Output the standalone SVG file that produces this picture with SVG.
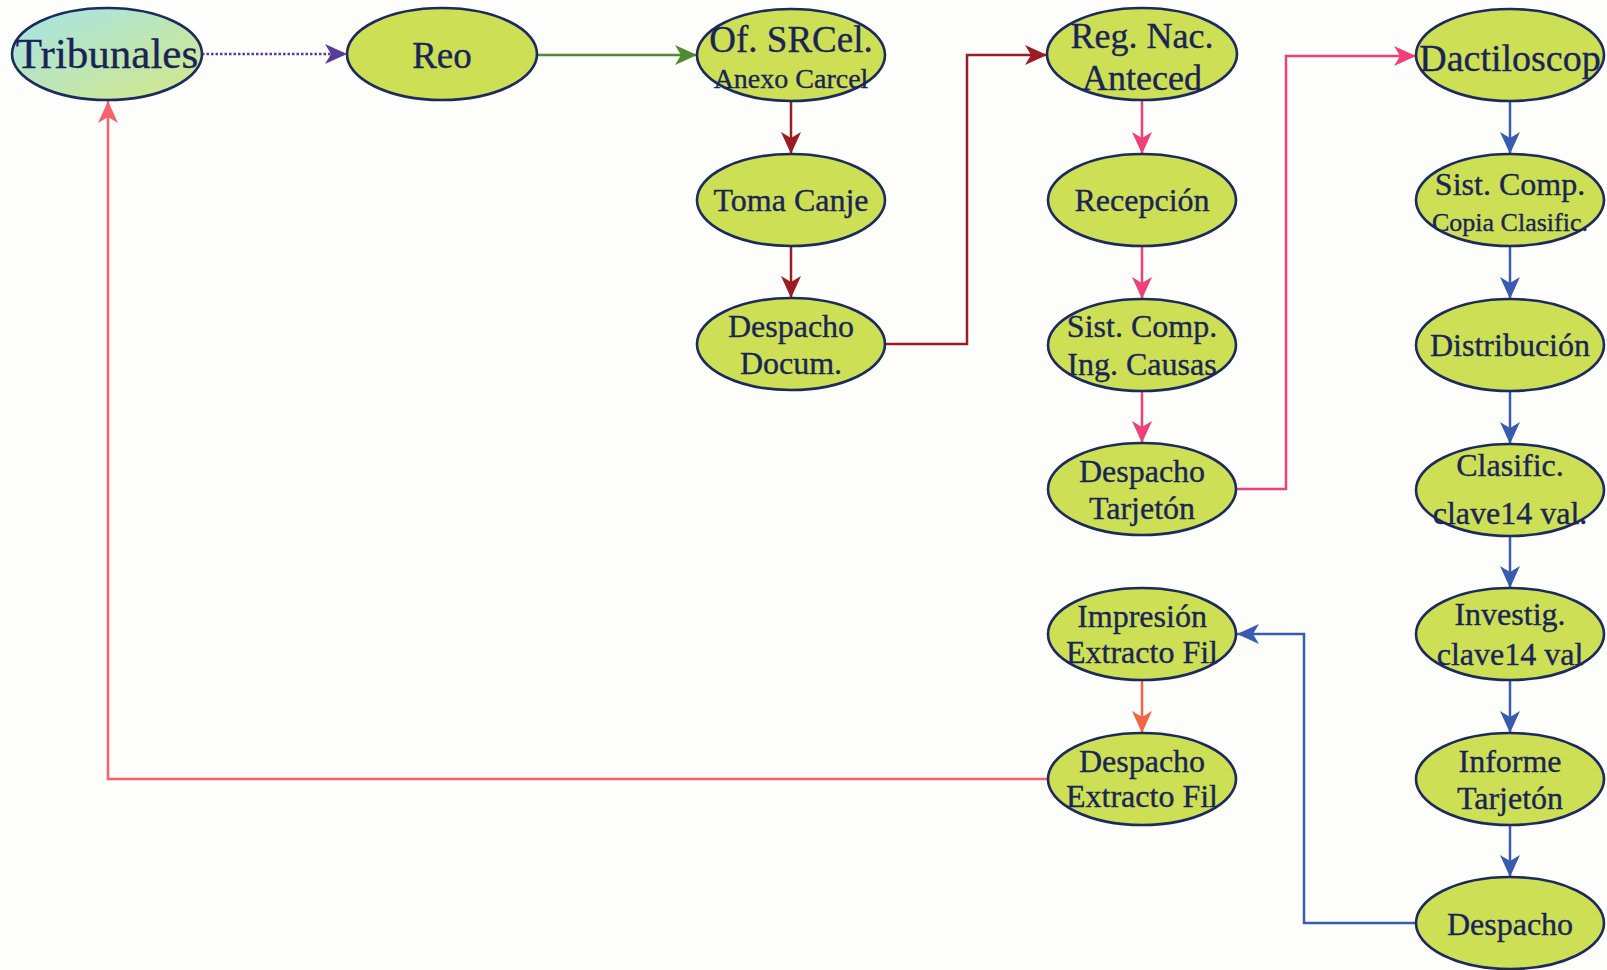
<svg xmlns="http://www.w3.org/2000/svg" width="1607" height="970" viewBox="0 0 1607 970">
<style>
.n ellipse{fill:#cddf55;stroke:#1c2a5e;stroke-width:2.6}
.n text{font-family:"Liberation Serif","Times New Roman",serif;fill:#1a2456;stroke:#1a2456;stroke-width:0.35;text-anchor:middle;font-size:32px}
.c path{fill:none;stroke-width:2.5}
</style>
<defs>
<linearGradient id="gTrib" x1="0" y1="0" x2="1" y2="1">
<stop offset="0" stop-color="#a6e4ea"/>
<stop offset="1" stop-color="#d4e884"/>
</linearGradient>
<marker id="aPurple" viewBox="0 0 22 20" refX="22" refY="10" markerWidth="22" markerHeight="20" markerUnits="userSpaceOnUse" orient="auto"><path d="M0,0 L22,10 L0,20 L6,10 z" fill="#5b3a9e"/></marker>
<marker id="aGreen" viewBox="0 0 22 20" refX="22" refY="10" markerWidth="22" markerHeight="20" markerUnits="userSpaceOnUse" orient="auto"><path d="M0,0 L22,10 L0,20 L6,10 z" fill="#4e8b2c"/></marker>
<marker id="aRed" viewBox="0 0 22 20" refX="22" refY="10" markerWidth="22" markerHeight="20" markerUnits="userSpaceOnUse" orient="auto"><path d="M0,0 L22,10 L0,20 L6,10 z" fill="#9b1c24"/></marker>
<marker id="aPink" viewBox="0 0 22 20" refX="22" refY="10" markerWidth="22" markerHeight="20" markerUnits="userSpaceOnUse" orient="auto"><path d="M0,0 L22,10 L0,20 L6,10 z" fill="#f0407c"/></marker>
<marker id="aBlue" viewBox="0 0 22 20" refX="22" refY="10" markerWidth="22" markerHeight="20" markerUnits="userSpaceOnUse" orient="auto"><path d="M0,0 L22,10 L0,20 L6,10 z" fill="#3a5cb0"/></marker>
<marker id="aOrange" viewBox="0 0 22 20" refX="22" refY="10" markerWidth="22" markerHeight="20" markerUnits="userSpaceOnUse" orient="auto"><path d="M0,0 L22,10 L0,20 L6,10 z" fill="#f26545"/></marker>
<marker id="aSalmon" viewBox="0 0 22 20" refX="22" refY="10" markerWidth="22" markerHeight="20" markerUnits="userSpaceOnUse" orient="auto"><path d="M0,0 L22,10 L0,20 L6,10 z" fill="#f5636e"/></marker>
</defs>
<rect width="1607" height="970" fill="#fdfdfb"/>
<g id="connectors" class="c">
<path d="M202,54 H347" stroke="#5b3a9e" stroke-dasharray="2.5 2" marker-end="url(#aPurple)"/>
<path d="M537,55 H697" stroke="#4e8b2c" marker-end="url(#aGreen)"/>
<path d="M791,101 V154" stroke="#9b1c24" marker-end="url(#aRed)"/>
<path d="M791,246 V298" stroke="#9b1c24" marker-end="url(#aRed)"/>
<path d="M885,344 H967 V55 H1047" stroke="#9b1c24" marker-end="url(#aRed)"/>
<path d="M1142,100 V154" stroke="#f0407c" marker-end="url(#aPink)"/>
<path d="M1142,246 V299" stroke="#f0407c" marker-end="url(#aPink)"/>
<path d="M1142,391 V443" stroke="#f0407c" marker-end="url(#aPink)"/>
<path d="M1236,489 H1286 V56 H1416" stroke="#f0407c" marker-end="url(#aPink)"/>
<path d="M1510,101 V154" stroke="#3a5cb0" marker-end="url(#aBlue)"/>
<path d="M1510,246 V299" stroke="#3a5cb0" marker-end="url(#aBlue)"/>
<path d="M1510,391 V444" stroke="#3a5cb0" marker-end="url(#aBlue)"/>
<path d="M1510,536 V588" stroke="#3a5cb0" marker-end="url(#aBlue)"/>
<path d="M1510,680 V733" stroke="#3a5cb0" marker-end="url(#aBlue)"/>
<path d="M1510,825 V877" stroke="#3a5cb0" marker-end="url(#aBlue)"/>
<path d="M1416,923 H1304 V634 H1237" stroke="#3a5cb0" marker-end="url(#aBlue)"/>
<path d="M1142,680 V733" stroke="#f26545" marker-end="url(#aOrange)"/>
<path d="M1047,779 H108 V101" stroke="#f5636e" marker-end="url(#aSalmon)"/>
</g>
<g id="tribunales" class="n"><ellipse cx="107" cy="54" rx="95" ry="46" style="fill:url(#gTrib)"/><text x="107" y="68" style="font-size:43px">Tribunales</text></g>
<g id="reo" class="n"><ellipse cx="442" cy="54" rx="95" ry="46"/><text x="442" y="68" style="font-size:37px">Reo</text></g>
<g id="ofsrcel" class="n"><ellipse cx="791" cy="55" rx="94" ry="46"/><text x="791" y="52" style="font-size:37px">Of. SRCel.</text><text x="791" y="88" style="font-size:28px">Anexo Carcel</text></g>
<g id="tomacanje" class="n"><ellipse cx="791" cy="200" rx="94" ry="46"/><text x="791" y="211">Toma Canje</text></g>
<g id="despachodocum" class="n"><ellipse cx="791" cy="344" rx="94" ry="46"/><text x="791" y="337">Despacho</text><text x="791" y="374">Docum.</text></g>
<g id="regnac" class="n"><ellipse cx="1142" cy="54" rx="95" ry="46"/><text x="1142" y="48" style="font-size:36px">Reg. Nac.</text><text x="1142" y="90" style="font-size:36px">Anteced</text></g>
<g id="recepcion" class="n"><ellipse cx="1142" cy="200" rx="94" ry="46"/><text x="1142" y="211">Recepción</text></g>
<g id="sistcompcausas" class="n"><ellipse cx="1142" cy="345" rx="94" ry="46"/><text x="1142" y="337">Sist. Comp.</text><text x="1142" y="375">Ing. Causas</text></g>
<g id="despachotarjeton" class="n"><ellipse cx="1142" cy="489" rx="94" ry="46"/><text x="1142" y="482">Despacho</text><text x="1142" y="519">Tarjetón</text></g>
<g id="impresion" class="n"><ellipse cx="1142" cy="634" rx="94" ry="46"/><text x="1142" y="627">Impresión</text><text x="1142" y="663">Extracto Fil</text></g>
<g id="despachoextracto" class="n"><ellipse cx="1142" cy="779" rx="94" ry="46"/><text x="1142" y="772">Despacho</text><text x="1142" y="807">Extracto Fil</text></g>
<g id="dactiloscop" class="n"><ellipse cx="1510" cy="55" rx="94" ry="46"/><text x="1510" y="71" style="font-size:38px">Dactiloscop</text></g>
<g id="sistcompcopia" class="n"><ellipse cx="1510" cy="200" rx="94" ry="46"/><text x="1510" y="195">Sist. Comp.</text><text x="1510" y="231" style="font-size:26px">Copia Clasific.</text></g>
<g id="distribucion" class="n"><ellipse cx="1510" cy="345" rx="94" ry="46"/><text x="1510" y="356">Distribución</text></g>
<g id="clasific" class="n"><ellipse cx="1510" cy="490" rx="94" ry="46"/><text x="1510" y="476">Clasific.</text><text x="1510" y="524">clave14 val.</text></g>
<g id="investig" class="n"><ellipse cx="1510" cy="634" rx="94" ry="46"/><text x="1510" y="625">Investig.</text><text x="1510" y="665">clave14 val</text></g>
<g id="informe" class="n"><ellipse cx="1510" cy="779" rx="94" ry="46"/><text x="1510" y="772">Informe</text><text x="1510" y="809">Tarjetón</text></g>
<g id="despacho" class="n"><ellipse cx="1510" cy="923" rx="94" ry="46"/><text x="1510" y="935">Despacho</text></g>
</svg>
